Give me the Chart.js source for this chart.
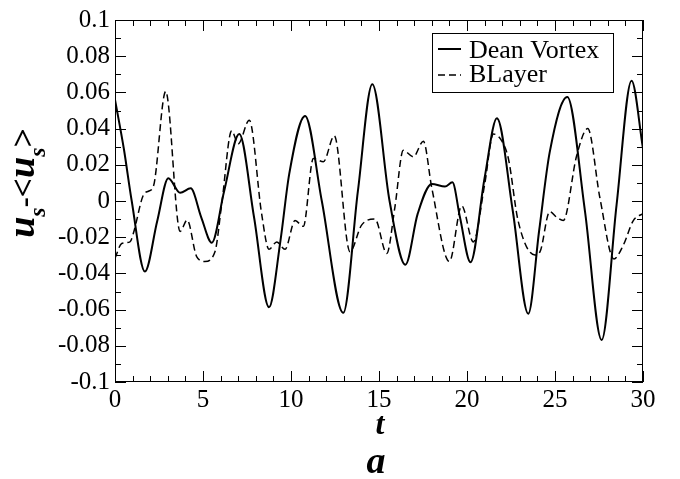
<!DOCTYPE html>
<html>
<head>
<meta charset="utf-8">
<script src="https://cdn.jsdelivr.net/npm/chart.js@4/dist/chart.umd.min.js"></script>
<style>
  html, body { margin: 0; padding: 0; background: #fff; }
  #wrap { width: 680px; height: 479px; }
</style>
</head>
<body>
<div id="wrap"><canvas id="chart" width="680" height="479"></canvas></div>
<script>
// Dean Vortex (solid)
const deanT = [0, 0.5, 0.95, 1.7, 2.4, 3.03, 3.7, 4.3, 4.9, 5.5, 6.2, 7.06, 7.9, 8.75, 9.4, 9.9, 10.8, 11.75, 12.97, 13.8, 14.62, 15.6, 16.5, 17.2, 18.0, 18.75, 19.17, 19.6, 20.2, 21.0, 21.7, 22.6, 23.48, 24.1, 24.7, 25.7, 26.7, 27.65, 28.5, 29.35, 30];
const deanU = [0.056, 0.029, 0, -0.039, -0.011, 0.0126, 0.0045, 0.007, -0.009, -0.023, 0.0054, 0.037, -0.009, -0.0587, -0.022, 0.015, 0.047, 0, -0.0618, 0.0054, 0.0645, 0, -0.0352, -0.007, 0.0094, 0.008, 0.0103, -0.009, -0.0338, 0.0127, 0.0457, -0.0054, -0.0623, -0.0163, 0.027, 0.0575, -0.0054, -0.0768, -0.002, 0.0665, 0.029];

// BLayer (dashed)
const blT = [0, 0.38, 0.85, 1.04, 1.6, 1.9, 2.18, 2.88, 3.7, 4.1, 4.64, 5.1, 5.68, 6.06, 6.63, 7.0, 7.63, 8.33, 8.75, 9.19, 9.66, 10.23, 10.7, 11.27, 11.84, 12.46, 13.35, 14.0, 14.77, 15.44, 15.9, 16.38, 16.95, 17.52, 18.0, 19.0, 19.7, 20.36, 21.0, 21.5, 21.9, 22.35, 22.9, 23.86, 24.15, 24.7, 25.1, 25.47, 26.23, 26.86, 27.55, 28.35, 28.88, 29.45, 30];
const blU = [-0.0316, -0.0235, -0.0226, -0.018, 0.003, 0.0054, 0.008, 0.0605, -0.0168, -0.0105, -0.0307, -0.0334, -0.028, -0.002, 0.0388, 0.0316, 0.0446, -0.007, -0.0267, -0.0226, -0.0267, -0.0108, -0.014, 0.0235, 0.0217, 0.036, -0.028, -0.0135, -0.01, -0.029, -0.0036, 0.028, 0.0244, 0.033, 0.0072, -0.0334, -0.0027, -0.0226, 0.009, 0.037, 0.0343, 0.0235, -0.0108, -0.0298, -0.028, -0.0058, -0.009, -0.0108, 0.025, 0.040, 0.0018, -0.032, -0.0244, -0.0108, -0.0069];

const seriesNames = ["Dean Vortex", "BLayer"];
const xMin = 0, xMax = 30;
const yMin = -0.1, yMax = 0.1;

const serif = "'Liberation Serif', 'Times New Roman', serif";

function toPoints(ts, us) {
    return ts.map((t, i) => ({ x: t, y: us[i] }));
}

// frame, inward ticks, legend, titles
const decor = {
    id: "decor",
    afterDraw(chart) {
        const ctx = chart.ctx;
        const a = chart.chartArea;
        const xs = chart.scales.x, ys = chart.scales.y;
        ctx.save();
        ctx.strokeStyle = "#000";
        ctx.lineWidth = 1;
        ctx.strokeRect(a.left + 0.5, a.top + 0.5, a.right - a.left - 1, a.bottom - a.top - 1);

        ctx.beginPath();
        for (let i = xMin; i <= xMax; i++) {
            const px = Math.round(xs.getPixelForValue(i)) + 0.5;
            const len = i % 5 === 0 ? 11 : 6;
            ctx.moveTo(px, a.bottom); ctx.lineTo(px, a.bottom - len);
            ctx.moveTo(px, a.top); ctx.lineTo(px, a.top + len);
        }
        for (let k = 0; k <= 20; k++) {
            const v = yMin + k * 0.01;
            const py = Math.round(ys.getPixelForValue(v)) + 0.5;
            const len = k % 2 === 0 ? 11 : 6;
            ctx.moveTo(a.left, py); ctx.lineTo(a.left + len, py);
            ctx.moveTo(a.right, py); ctx.lineTo(a.right - len, py);
        }
        ctx.stroke();

        // legend
        ctx.fillStyle = "#fff";
        ctx.fillRect(432, 33, 181, 59);
        ctx.strokeRect(432.5, 33.5, 181, 59);
        ctx.lineWidth = 2;
        ctx.beginPath(); ctx.moveTo(438, 49); ctx.lineTo(461, 49); ctx.stroke();
        ctx.lineWidth = 1.5;
        ctx.setLineDash([7, 4]);
        ctx.beginPath(); ctx.moveTo(438, 75); ctx.lineTo(461, 75); ctx.stroke();
        ctx.setLineDash([]);
        ctx.fillStyle = "#000";
        ctx.font = "26px " + serif;
        ctx.textAlign = "left";
        ctx.textBaseline = "alphabetic";
        ctx.fillText(seriesNames[0], 469, 58);
        ctx.fillText(seriesNames[1], 469, 82);

        // x title and panel letter
        ctx.textAlign = "center";
        ctx.font = "italic bold 32px " + serif;
        ctx.fillText("t", 380, 434);
        ctx.font = "italic bold 38px " + serif;
        ctx.fillText("a", 376, 473);

        // y title: u_s-<u_s>
        ctx.translate(34, 183);
        ctx.rotate(-Math.PI / 2);
        ctx.textAlign = "left";
        const parts = [
            ["u", "italic bold 38px", 0],
            ["s", "italic bold 24px", 11],
            ["-", "bold 30px", 0],
            ["<", "bold 34px", 0],
            ["u", "italic bold 38px", 0],
            ["s", "italic bold 24px", 11],
            [">", "bold 34px", 0]
        ];
        let w = 0;
        parts.forEach(p => { ctx.font = p[1] + " " + serif; w += ctx.measureText(p[0]).width; });
        let x = -w / 2;
        parts.forEach(p => {
            ctx.font = p[1] + " " + serif;
            ctx.fillText(p[0], x, p[2]);
            x += ctx.measureText(p[0]).width;
        });
        ctx.restore();
    }
};

new Chart(document.getElementById("chart"), {
    type: "line",
    data: {
        datasets: [
            {
                label: seriesNames[0],
                data: toPoints(deanT, deanU),
                borderColor: "#000",
                borderWidth: 2,
                pointRadius: 0,
                fill: false,
                cubicInterpolationMode: "monotone",
            },
            {
                label: seriesNames[1],
                data: toPoints(blT, blU),
                borderColor: "#000",
                borderWidth: 1.5,
                borderDash: [7, 4],
                pointRadius: 0,
                fill: false,
                cubicInterpolationMode: "monotone",
            },
        ],
    },
    options: {
        responsive: false,
        animation: false,
        layout: { padding: { top: 13, right: 37, left: 0, bottom: 0 } },
        plugins: {
            legend: { display: false },
            tooltip: { enabled: false },
        },
        scales: {
            x: {
                type: "linear",
                min: xMin,
                max: xMax,
                grid: { display: false, drawTicks: false },
                border: { display: false },
                afterFit(scale) { scale.height = 97; },
                ticks: {
                    stepSize: 5,
                    padding: 3,
                    color: "#000",
                    maxRotation: 0,
                    font: { family: serif, size: 25 },
                },
            },
            y: {
                min: yMin,
                max: yMax,
                grid: { display: false, drawTicks: false },
                border: { display: false },
                afterFit(scale) { scale.width = 115; },
                ticks: {
                    stepSize: 0.02,
                    padding: 5,
                    color: "#000",
                    font: { family: serif, size: 25 },
                    callback: v => String(Number(v.toFixed(2))),
                },
            },
        },
    },
    plugins: [decor],
});
</script>
</body>
</html>
